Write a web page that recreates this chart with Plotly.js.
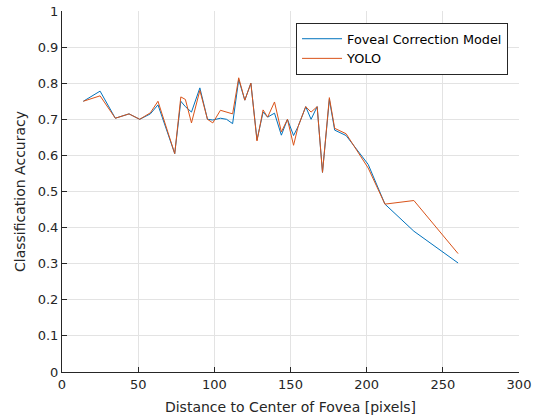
<!DOCTYPE html>
<html>
<head>
<meta charset="utf-8">
<script src="https://cdn.plot.ly/plotly-3.0.1.min.js"></script>
<style>html,body{margin:0;padding:0;background:#fff;}#chart{width:538px;height:417px;}</style>
</head>
<body>
<div id="chart"></div>
<script>
var distance = [14, 25, 35, 44, 51, 58, 63, 74, 78, 81, 85, 90.5, 95.5, 99, 104, 108, 112, 116, 120, 124, 128, 132, 135, 139.5, 144, 148, 152, 155, 160, 163.5, 167.5, 171, 175.5, 179, 186.5, 201, 212, 231, 260];
var foveal = [0.75, 0.778, 0.703, 0.715, 0.70, 0.715, 0.74, 0.605, 0.75, 0.735, 0.72, 0.787, 0.70, 0.698, 0.703, 0.70, 0.688, 0.81, 0.753, 0.80, 0.643, 0.72, 0.706, 0.717, 0.656, 0.70, 0.655, 0.68, 0.735, 0.70, 0.735, 0.553, 0.755, 0.67, 0.655, 0.575, 0.465, 0.39, 0.302];
var yolo = [0.75, 0.765, 0.703, 0.715, 0.70, 0.718, 0.75, 0.605, 0.762, 0.755, 0.69, 0.78, 0.70, 0.69, 0.725, 0.72, 0.715, 0.815, 0.753, 0.80, 0.64, 0.726, 0.706, 0.748, 0.665, 0.70, 0.628, 0.68, 0.735, 0.72, 0.735, 0.553, 0.76, 0.675, 0.66, 0.565, 0.465, 0.475, 0.328];
var seriesNames = ["Foveal Correction Model", "YOLO"];
var xTicks = [0, 50, 100, 150, 200, 250, 300];
var yTicks = [0, 0.1, 0.2, 0.3, 0.4, 0.5, 0.6, 0.7, 0.8, 0.9, 1];
var yTickText = ["0", "0.1", "0.2", "0.3", "0.4", "0.5", "0.6", "0.7", "0.8", "0.9", "1"];

var traces = [
  {x: distance, y: foveal, name: seriesNames[0], type: "scatter", mode: "lines",
   line: {color: "#0072BD", width: 1}},
  {x: distance, y: yolo, name: seriesNames[1], type: "scatter", mode: "lines",
   line: {color: "#D95319", width: 1}}
];

var axisCommon = {
  showline: true, linecolor: "#262626", linewidth: 1,
  ticks: "inside", ticklen: 5, tickcolor: "#262626",
  showgrid: true, gridcolor: "#e3e3e3", gridwidth: 1,
  zeroline: false, mirror: false,
  tickfont: {family: "DejaVu Sans", size: 13, color: "#262626"}
};

var layout = {
  width: 538, height: 417,
  margin: {l: 62, r: 19, t: 11, b: 45, pad: 0},
  paper_bgcolor: "#ffffff", plot_bgcolor: "#ffffff",
  font: {family: "DejaVu Sans", color: "#262626"},
  xaxis: Object.assign({}, axisCommon, {
    range: [0, 300], tickvals: xTicks,
    title: {text: "Distance to Center of Fovea [pixels]", font: {family: "DejaVu Sans", size: 14, color: "#262626"}, standoff: 11}
  }),
  yaxis: Object.assign({}, axisCommon, {
    range: [0, 1], tickvals: yTicks, ticktext: yTickText,
    title: {text: "Classification Accuracy", font: {family: "DejaVu Sans", size: 14, color: "#262626"}, standoff: 8}
  }),
  showlegend: true,
  legend: {
    x: 0.976, y: 0.967, xanchor: "right", yanchor: "top",
    bgcolor: "#ffffff", bordercolor: "#262626", borderwidth: 1,
    font: {family: "DejaVu Sans", size: 12.8, color: "#000000"},
    tracegroupgap: 0, itemwidth: 40
  }
};

Plotly.newPlot("chart", traces, layout, {displayModeBar: false, staticPlot: true});
</script>
</body>
</html>
